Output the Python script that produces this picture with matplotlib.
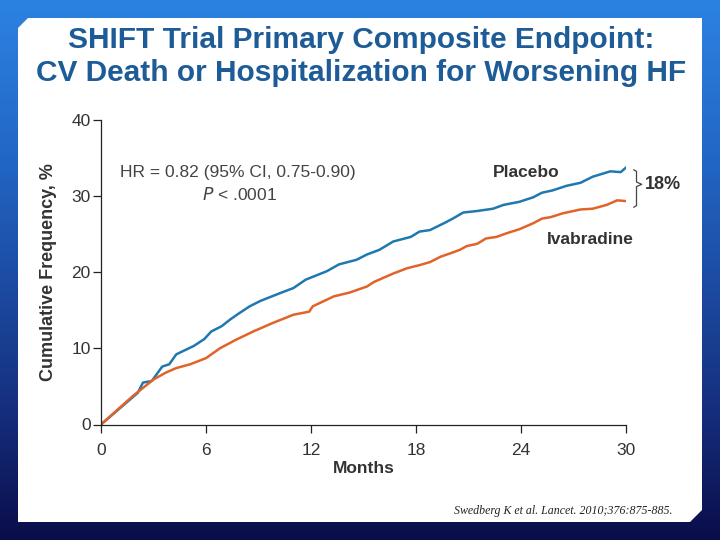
import numpy as np
import matplotlib
matplotlib.use("Agg")
import matplotlib.pyplot as plt
from matplotlib.patches import Polygon
from matplotlib.colors import LinearSegmentedColormap

# Kaplan-Meier style curves (months, cumulative %)
placebo_months = [0, 2.1, 2.4, 2.9, 3.5, 3.9, 4.3, 5.3, 5.9, 6.3, 6.9, 7.4, 7.9,
                  8.5, 9.1, 10.2, 11.0, 11.7, 12.9, 13.6, 14.6, 15.2, 15.9,
                  16.7, 17.7, 18.2, 18.8, 19.6, 20.1, 20.7, 21.5, 22.4, 23.0,
                  23.9, 24.7, 25.2, 25.8, 26.6, 27.4, 28.1, 29.1, 29.7, 30.0]
placebo_pct = [0, 4.15, 5.5, 5.7, 7.6, 7.9, 9.2, 10.3, 11.2, 12.2, 12.9, 13.8, 14.6,
               15.5, 16.2, 17.2, 17.9, 19.0, 20.1, 21.0, 21.6, 22.3, 22.9,
               24.0, 24.6, 25.3, 25.5, 26.4, 27.0, 27.8, 28.0, 28.3, 28.8,
               29.2, 29.8, 30.4, 30.7, 31.3, 31.7, 32.5, 33.2, 33.1, 33.7]

ivab_months = [0, 1.8, 3.0, 3.7, 4.3, 5.1, 6.0, 6.8, 7.7, 8.7, 9.8, 11.0, 11.9,
               12.1, 13.3, 14.2, 15.2, 15.6, 16.7, 17.5, 18.2, 18.8, 19.4,
               19.9, 20.5, 20.9, 21.5, 22.0, 22.6, 23.2, 23.9, 24.7, 25.2,
               25.7, 26.4, 27.4, 28.1, 28.9, 29.5, 30.0]
ivab_pct = [0, 3.7, 5.9, 6.8, 7.4, 7.9, 8.7, 10.0, 11.1, 12.2, 13.3, 14.4, 14.8,
            15.5, 16.8, 17.3, 18.1, 18.7, 19.8, 20.5, 20.9, 21.3, 22.0,
            22.4, 22.9, 23.4, 23.7, 24.4, 24.6, 25.1, 25.6, 26.4, 27.0,
            27.2, 27.7, 28.2, 28.3, 28.8, 29.4, 29.3]

x_ticks = [0, 6, 12, 18, 24, 30]
y_ticks = [0, 10, 20, 30, 40]

title_lines = "SHIFT Trial Primary Composite Endpoint:\nCV Death or Hospitalization for Worsening HF"

plt.rcParams['font.family'] = ['Liberation Sans', 'DejaVu Sans']

fig = plt.figure(figsize=(7.2, 5.4), dpi=100)

# slide background: vertical blue gradient
bg = fig.add_axes([0, 0, 1, 1])
bg.set_axis_off()
cmap = LinearSegmentedColormap.from_list(
    "slide", [(0.0, "#2c82e2"), (0.3, "#2266c4"), (0.75, "#16307f"), (1.0, "#0a0d4a")])
grad = np.linspace(0, 1, 256).reshape(-1, 1)
bg.imshow(grad, cmap=cmap, aspect="auto", extent=[0, 720, 540, 0])
bg.set_xlim(0, 720)
bg.set_ylim(540, 0)

# white panel with chamfered corners
panel = Polygon([(28, 18), (702, 18), (702, 510), (690, 522), (18, 522), (18, 28)],
                closed=True, facecolor="white", edgecolor="none")
bg.add_patch(panel)

fig.text(0.502, 1 - 56.5 / 540, title_lines, ha="center", va="center", color="#1e5c98",
         fontsize=21.5, fontweight="bold", linespacing=1.25)

ax = fig.add_axes([101 / 720, 1 - 424.5 / 540, 525 / 720, 305 / 540])
ax.patch.set_alpha(0)
ax.plot(placebo_months, placebo_pct, color="#1f78b0", lw=1.8)
ax.plot(ivab_months, ivab_pct, color="#e2632a", lw=1.8)

ax.set_xlim(0, 30)
ax.set_ylim(0, 40)
ax.set_xticks(x_ticks)
ax.set_yticks(y_ticks)
ax.spines['top'].set_visible(False)
ax.spines['right'].set_visible(False)
for s in ['left', 'bottom']:
    ax.spines[s].set_color("#222222")
    ax.spines[s].set_linewidth(0.9)
ax.tick_params(direction="out", length=5.5, width=0.9, colors="#222222",
               labelsize=12.5, labelcolor="#333333")
ax.tick_params(axis="x", pad=8)
ax.tick_params(axis="y", pad=2)
ax.set_xlabel("Months", fontsize=12.5, fontweight="bold", color="#333333", labelpad=2)
ax.set_ylabel("Cumulative Frequency, %", fontsize=13, fontweight="bold",
              color="#333333", labelpad=10)

ax.text(7.8, 33.1, "HR = 0.82 (95% CI, 0.75-0.90)", ha="center", va="center",
        fontsize=12.5, color="#444444")
ax.text(7.9, 30.1, r"$P$ < .0001", ha="center", va="center",
        fontsize=12.5, color="#444444")
ax.text(22.4, 33.0, "Placebo", ha="left", va="center", fontsize=12.5,
        fontweight="bold", color="#333333")
ax.text(25.5, 24.2, "Ivabradine", ha="left", va="center", fontsize=12.5,
        fontweight="bold", color="#333333")

# brace marking the 18% gap
bx = [30.45, 30.6, 30.6, 30.9, 30.6, 30.6, 30.45]
by = [33.4, 33.2, 31.8, 31.5, 31.2, 28.7, 28.5]
ax.plot(bx, by, color="#444444", lw=0.9, clip_on=False)
ax.text(31.05, 31.5, "18%", ha="left", va="center", fontsize=13,
        fontweight="bold", color="#333333", clip_on=False)

fig.text(672 / 720, 1 - 511 / 540, "Swedberg K et al. Lancet. 2010;376:875-885.",
         ha="right", va="center", fontsize=8.6, style="italic",
         family=["Liberation Serif", "DejaVu Serif"], color="#222222")

fig.savefig("out.png", dpi=100)
